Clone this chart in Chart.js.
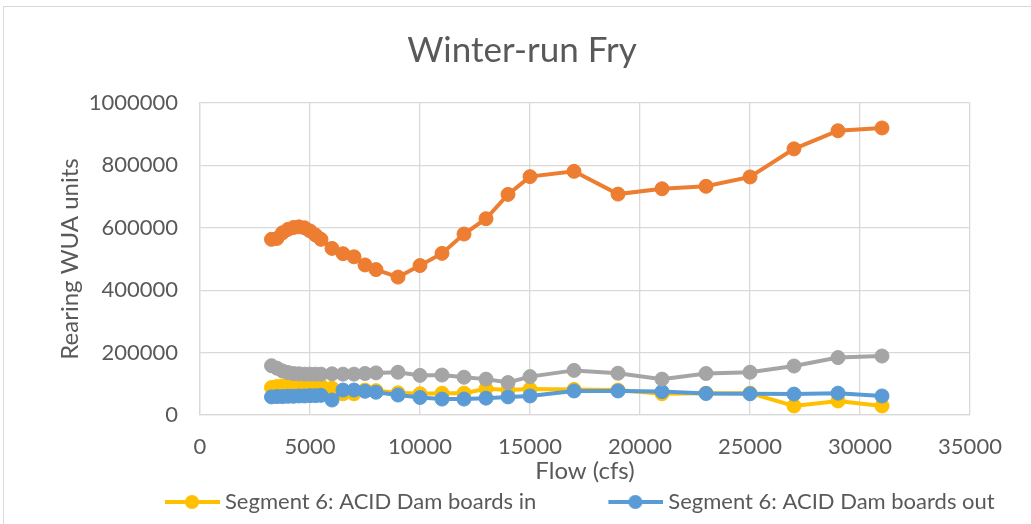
<!DOCTYPE html>
<html>
<head>
<meta charset="utf-8">
<title>Winter-run Fry</title>
<script src="https://cdn.jsdelivr.net/npm/chart.js@4.4.1/dist/chart.umd.min.js"></script>
<style>
  html, body { margin: 0; padding: 0; background: #fff; overflow: hidden; }
  #wrap { position: relative; width: 1031px; height: 524px; }
</style>
</head>
<body>
<div id="wrap"><canvas id="chart"></canvas></div>
<script>
// flow values (cfs) shared by all four series
const flows = [3250, 3500, 3750, 4000, 4250, 4500, 4750, 5000, 5250, 5500,
  6000, 6500, 7000, 7500, 8000, 9000, 10000, 11000, 12000, 13000,
  14000, 15000, 17000, 19000, 21000, 23000, 25000, 27000, 29000, 31000];

const boardsIn = [88000, 91000, 93000, 94000, 95000, 95000, 95000, 95000, 95000, 95000,
  86000, 68000, 68000, 80000, 78000, 71000, 68000, 70000, 70000, 84000,
  80000, 83000, 82000, 80000, 68000, 70000, 70000, 29000, 45000, 29000];

const boardsOut = [58000, 59000, 59000, 60000, 60000, 61000, 61000, 62000, 62000, 63000,
  48000, 80000, 80000, 76000, 73000, 64000, 56000, 51000, 51000, 54000,
  58000, 61000, 77000, 77000, 75000, 69000, 68000, 67000, 70000, 61000];

const orangeSeries = [563000, 566000, 584000, 595000, 601000, 603000, 600000, 590000, 577000, 563000,
  534000, 517000, 507000, 481000, 466000, 442000, 479000, 518000, 580000, 629000,
  707000, 764000, 781000, 708000, 725000, 733000, 763000, 853000, 911000, 920000];

const graySeries = [158000, 150000, 141000, 136000, 133000, 132000, 131000, 131000, 131000, 131000,
  132000, 131000, 131000, 133000, 135000, 137000, 127000, 128000, 121000, 115000,
  104000, 123000, 143000, 134000, 115000, 133000, 137000, 157000, 184000, 189000];

const xTicks = { min: 0, max: 35000, step: 5000 };
const yTicks = { min: 0, max: 1000000, step: 200000 };

const TEXT = "#595959";
const GRID = "#d9d9d9";
const FONT = "Lato, 'Open Sans', sans-serif";

Chart.defaults.font.family = FONT;
Chart.defaults.color = TEXT;

function toPoints(values) {
  return flows.map((f, i) => ({ x: f, y: values[i] }));
}

// legend marker: line with a dot, like the Excel legend
const LEGEND_BOX = 111;
function legendMark(color) {
  const w = LEGEND_BOX + 12;
  const c = document.createElement("canvas");
  c.width = w;
  c.height = 18;
  const g = c.getContext("2d");
  g.strokeStyle = color;
  g.lineWidth = 4;
  g.beginPath();
  g.moveTo(w - 55, 9);
  g.lineTo(w, 9);
  g.stroke();
  g.fillStyle = color;
  g.beginPath();
  g.arc(w - 28, 9, 7, 0, Math.PI * 2);
  g.fill();
  return c;
}

function series(label, values, color, order) {
  return {
    label: label,
    data: toPoints(values),
    borderColor: color,
    backgroundColor: color,
    borderWidth: 4,
    pointRadius: 7,
    pointBorderWidth: 1,
    pointBackgroundColor: color,
    pointBorderColor: color,
    tension: 0,
    order: order,
  };
}

const chartBorder = {
  id: "chartBorder",
  beforeDraw(chart) {
    const ctx = chart.ctx;
    ctx.save();
    ctx.fillStyle = "#fff";
    ctx.fillRect(0, 0, chart.width, chart.height);
    ctx.strokeStyle = GRID;
    ctx.lineWidth = 1;
    ctx.strokeRect(3.5, 6.5, chart.width + 50, chart.height + 50);
    ctx.restore();
  },
};

// nudge the title and legend to where Excel put them
const boxNudge = {
  id: "boxNudge",
  afterLayout(chart) {
    const t = chart.titleBlock;
    if (t) {
      const dx = 522 - (t.left + t.right) / 2;
      t.left += dx;
      t.right += dx;
    }
    const lg = chart.legend;
    if (!lg || !lg.lineWidths) return;
    const pad = lg.options.labels.padding;
    const start = (lg.left + pad + lg.right - lg.lineWidths[0]) / 2;
    const dx = 103 - start;
    lg.left += dx;
    lg.right += dx;
    const dy = 481 - lg.top;
    lg.top += dy;
    lg.bottom += dy;
  },
};

const marks = [legendMark("#FFC000"), legendMark("#5B9BD5")];

new Chart(document.getElementById("chart"), {
  type: "line",
  data: {
    datasets: [
      series("Segment 6: ACID Dam boards in", boardsIn, "#FFC000", 4),
      series("Segment 6: ACID Dam boards out", boardsOut, "#5B9BD5", 3),
      series("Series 3", orangeSeries, "#ED7D31", 2),
      series("Series 4", graySeries, "#A5A5A5", 1),
    ],
  },
  options: {
    responsive: true,
    maintainAspectRatio: false,
    animation: false,
    layout: { padding: { left: 0, right: 61, top: 0, bottom: 0 } },
    plugins: {
      title: {
        display: true,
        text: "Winter-run Fry",
        color: TEXT,
        font: { size: 35, weight: "normal" },
        padding: { top: 30, bottom: 31 },
      },
      legend: {
        position: "bottom",
        labels: {
          color: TEXT,
          font: { size: 22 },
          usePointStyle: true,
          pointStyleWidth: LEGEND_BOX,
          padding: 10,
          sort: (a, b) => a.datasetIndex - b.datasetIndex,
          generateLabels(chart) {
            const items = Chart.defaults.plugins.legend.labels.generateLabels(chart);
            return items
              .filter((it) => it.datasetIndex < 2)
              .map((it) => ({ ...it, pointStyle: marks[it.datasetIndex] }));
          },
        },
      },
      tooltip: { enabled: false },
    },
    scales: {
      x: {
        type: "linear",
        min: xTicks.min,
        max: xTicks.max,
        afterFit(s) { s.height = 67; },
        ticks: {
          stepSize: xTicks.step,
          padding: 19,
          color: TEXT,
          font: { size: 22 },
          callback: (v) => String(v),
        },
        grid: { color: GRID, lineWidth: 1.3, drawTicks: false },
        border: { color: GRID, width: 1.3 },
        title: {
          display: true,
          text: "Flow (cfs)",
          color: TEXT,
          font: { size: 24 },
          padding: { top: 0, bottom: -4 },
        },
      },
      y: {
        min: yTicks.min,
        max: yTicks.max,
        afterFit(s) { s.width = 200; },
        ticks: {
          stepSize: yTicks.step,
          padding: 22,
          color: TEXT,
          font: { size: 22 },
          callback: (v) => String(v),
        },
        grid: { color: GRID, lineWidth: 1.3, drawTicks: false },
        border: { color: GRID, width: 1.3 },
        title: {
          display: true,
          text: "Rearing WUA units",
          color: TEXT,
          font: { size: 24 },
          padding: { top: 56, bottom: 0 },
        },
      },
    },
  },
  plugins: [chartBorder, boxNudge],
});
</script>
</body>
</html>
